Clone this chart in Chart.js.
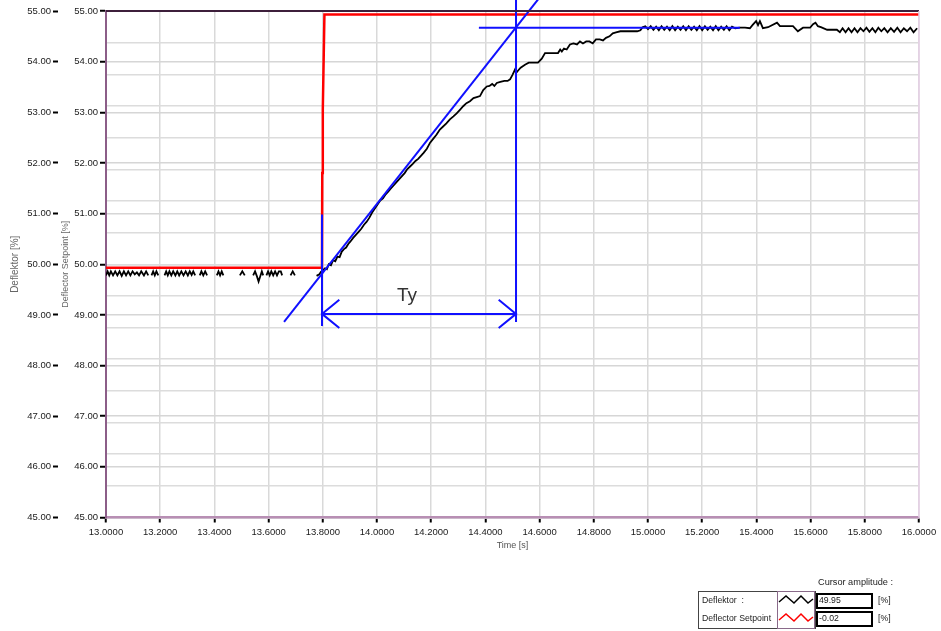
<!DOCTYPE html>
<html>
<head>
<meta charset="utf-8">
<title>Deflektor step response</title>
<script src="https://cdn.jsdelivr.net/npm/chart.js@4.4.1/dist/chart.umd.min.js"></script>
<style>
  html, body { margin: 0; padding: 0; background: #fff; }
  #wrap { position: relative; width: 941px; height: 631px; }
</style>
</head>
<body>
<div id="wrap"><canvas id="stepChart"></canvas></div>
<script>
// Deflektor trace (null = no visible trace in the recording)
const deflektorTime = [
  13.000, 13.006, 13.012, 13.018, 13.026, 13.034, 13.042, 13.050, 13.058, 13.066,
  13.074, 13.082, 13.090, 13.098, 13.106, 13.114, 13.122, 13.130, 13.140, 13.148,
  13.156, 13.162,
  13.168, 13.174, 13.180, 13.186, 13.193, 13.205,
  13.216, 13.222, 13.228, 13.234, 13.241, 13.248, 13.256, 13.263, 13.270, 13.278,
  13.286, 13.294, 13.302, 13.309, 13.316, 13.322, 13.329, 13.338,
  13.346, 13.352, 13.359, 13.366, 13.373, 13.390,
  13.409, 13.415, 13.421, 13.427, 13.433, 13.460,
  13.494, 13.503, 13.512, 13.530,
  13.543, 13.550, 13.557, 13.563, 13.569, 13.575, 13.580, 13.587,
  13.592, 13.598, 13.604, 13.610, 13.617, 13.624, 13.631, 13.638, 13.645, 13.650, 13.660,
  13.681, 13.689, 13.697, 13.740,
  13.777, 13.787, 13.793, 13.800, 13.808, 13.815, 13.822, 13.830, 13.838, 13.846,
  13.854, 13.862, 13.870, 13.878, 13.886, 13.894, 13.902, 13.912, 13.922, 13.932,
  13.942, 13.952, 13.962, 13.972, 13.982, 13.992, 14.002, 14.012, 14.022, 14.032,
  14.042, 14.052, 14.062, 14.072, 14.082, 14.092, 14.102, 14.112, 14.122, 14.132,
  14.142, 14.152, 14.162, 14.172, 14.184, 14.196, 14.208, 14.220, 14.232, 14.244,
  14.256, 14.269, 14.282, 14.294, 14.306, 14.318, 14.330, 14.343, 14.356, 14.368,
  14.380, 14.392, 14.405, 14.415, 14.425, 14.433, 14.442, 14.455, 14.470, 14.482,
  14.491, 14.500, 14.509, 14.514, 14.520, 14.530, 14.546, 14.560, 14.580, 14.594,
  14.608, 14.620, 14.640, 14.660, 14.668, 14.676, 14.682, 14.690, 14.700, 14.712,
  14.725, 14.738, 14.749, 14.760, 14.772, 14.784, 14.796, 14.808, 14.822, 14.834,
  14.845, 14.858, 14.870, 14.882, 14.898, 14.914, 14.930, 14.946, 14.960, 14.972,
  14.980, 14.990,
  15.000, 15.010, 15.020, 15.030, 15.040, 15.050, 15.060, 15.070, 15.080, 15.090,
  15.100, 15.110, 15.120, 15.130, 15.140, 15.150, 15.160, 15.170, 15.180, 15.190,
  15.200, 15.210, 15.220, 15.230, 15.240, 15.250, 15.260, 15.270, 15.280, 15.290,
  15.300, 15.310, 15.322, 15.339,
  15.358, 15.376, 15.387, 15.399, 15.406, 15.413, 15.424, 15.443, 15.476, 15.487,
  15.535, 15.553, 15.572, 15.598, 15.609, 15.618, 15.627, 15.638, 15.661, 15.697,
  15.708,
  15.718, 15.729, 15.740, 15.751, 15.762, 15.773, 15.784, 15.795, 15.806, 15.817,
  15.828, 15.839, 15.850, 15.861, 15.872, 15.884, 15.896, 15.908, 15.920, 15.932,
  15.944, 15.956, 15.968, 15.980, 15.993
];
const deflektorValue = [
  49.78, 49.86, 49.78, 49.86, 49.78, 49.86, 49.78, 49.86, 49.77, 49.86,
  49.78, 49.86, 49.78, 49.86, 49.80, 49.84, 49.78, 49.86, 49.78, 49.86,
  49.78, null,
  49.78, 49.86, 49.78, 49.86, 49.78, null,
  49.78, 49.86, 49.78, 49.86, 49.78, 49.86, 49.78, 49.86, 49.78, 49.86,
  49.78, 49.86, 49.78, 49.86, 49.79, 49.86, 49.78, null,
  49.78, 49.86, 49.78, 49.86, 49.78, null,
  49.78, 49.86, 49.78, 49.86, 49.78, null,
  49.78, 49.86, 49.78, null,
  49.78, 49.86, 49.76, 49.66, 49.76, 49.86, 49.78, null,
  49.78, 49.86, 49.78, 49.86, 49.78, 49.86, 49.78, 49.86, 49.86, 49.78, null,
  49.78, 49.86, 49.78, null,
  49.77, 49.80, 49.85, 49.88, 49.92, 49.90, 50.00, 49.98, 50.08, 50.06,
  50.15, 50.14, 50.25, 50.30, 50.33, 50.40, 50.45, 50.52, 50.58, 50.64,
  50.70, 50.78, 50.84, 50.92, 51.02, 51.10, 51.18, 51.26, 51.30, 51.38,
  51.44, 51.50, 51.56, 51.62, 51.68, 51.74, 51.80, 51.88, 51.93, 51.98,
  52.04, 52.08, 52.14, 52.20, 52.28, 52.40, 52.48, 52.56, 52.66, 52.72,
  52.78, 52.86, 52.92, 52.98, 53.05, 53.12, 53.18, 53.22, 53.28, 53.30,
  53.32, 53.44, 53.51, 53.52, 53.56, 53.52, 53.58, 53.60, 53.62, 53.62,
  53.65, 53.74, 53.84, 53.78, 53.82, 53.88, 53.94, 53.98, 53.98, 53.98,
  54.06, 54.17, 54.17, 54.17, 54.17, 54.24, 54.20, 54.26, 54.24, 54.34,
  54.36, 54.34, 54.40, 54.36, 54.40, 54.40, 54.36, 54.44, 54.44, 54.42,
  54.47, 54.50, 54.56, 54.58, 54.60, 54.60, 54.60, 54.60, 54.60, 54.62,
  54.68, 54.70,
  54.64, 54.70, 54.63, 54.69, 54.62, 54.70, 54.63, 54.69, 54.62, 54.70,
  54.62, 54.69, 54.63, 54.70, 54.62, 54.70, 54.63, 54.69, 54.62, 54.70,
  54.62, 54.70, 54.63, 54.69, 54.62, 54.70, 54.62, 54.69, 54.63, 54.70,
  54.62, 54.69, 54.66, 54.67,
  54.67, 54.66, 54.73, 54.80, 54.72, 54.80, 54.66, 54.68, 54.77, 54.70,
  54.70, 54.60, 54.67, 54.67, 54.74, 54.77, 54.70, 54.68, 54.63, 54.63,
  54.58,
  54.66, 54.58, 54.66, 54.58, 54.66, 54.58, 54.66, 54.60, 54.67, 54.59,
  54.66, 54.58, 54.67, 54.60, 54.66, 54.58, 54.66, 54.59, 54.67, 54.58,
  54.66, 54.60, 54.67, 54.58, 54.66
];

// Deflector setpoint step
const setpointTime = [13.000, 13.797, 13.798, 13.800, 13.804, 13.806, 16.000];
const setpointValue = [49.93, 49.93, 51.80, 53.05, 54.30, 54.93, 54.93];

// Construction lines for the time constant Ty
const tangentTime = [13.657, 14.596];
const tangentValue = [48.86, 55.24];
const startLineTime = [13.797, 13.797];
const startLineValue = [50.98, 48.78];
const endLineTime = [14.513, 14.513];
const endLineValue = [55.24, 48.86];
const levelLineTime = [14.376, 15.339];
const levelLineValue = [54.67, 54.67];
const arrowTime = [13.797, 14.513];
const arrowValue = [49.02, 49.02];
const leftHeadTime = [13.861, 13.797, 13.861];
const leftHeadValue = [49.30, 49.02, 48.74];
const rightHeadTime = [14.449, 14.513, 14.449];
const rightHeadValue = [49.30, 49.02, 48.74];
const tyLabel = { text: 'Ty', t: 14.111, v: 49.38 };

// Axis ticks
const timeTicks = [13.0, 13.2, 13.4, 13.6, 13.8, 14.0, 14.2, 14.4, 14.6, 14.8,
                   15.0, 15.2, 15.4, 15.6, 15.8, 16.0];
const percentTicks = [45, 46, 47, 48, 49, 50, 51, 52, 53, 54, 55];
const fineGridTicks = [0, 1, 2, 3, 4, 5, 6, 7, 8, 9, 10, 11, 12, 13, 14, 15, 16];

// Cursor legend
const legendNames = ['Deflektor  :', 'Deflector Setpoint'];
const legendColors = ['#000000', '#ff0000'];
const cursorValues = ['49.95', '-0.02'];
const cursorUnit = '[%]';

function toPoints(xs, ys) {
    return xs.map((x, i) => ({ x: x, y: ys[i] }));
}

const BLUE = '#1010ff';
const FONT = 'Liberation Sans';

function blueLine(xs, ys, noClip) {
    return {
        data: toPoints(xs, ys),
        borderColor: BLUE,
        borderWidth: 2,
        pointRadius: 0,
        yAxisID: 'y',
        clip: noClip ? false : undefined
    };
}

// frame, Ty label and cursor legend
const decorPlugin = {
    id: 'decor',
    afterDatasetsDraw(chart) {
        const ctx = chart.ctx;
        const a = chart.chartArea;
        ctx.save();
        ctx.strokeStyle = '#3d1f3b';
        ctx.lineWidth = 2;
        ctx.beginPath();
        ctx.moveTo(a.left, a.top);
        ctx.lineTo(a.right, a.top);
        ctx.stroke();
        ctx.strokeStyle = '#e6cfe6';
        ctx.lineWidth = 1.5;
        ctx.beginPath();
        ctx.moveTo(a.right, a.top);
        ctx.lineTo(a.right, a.bottom);
        ctx.stroke();

        const xs = chart.scales.x, ys = chart.scales.y;
        ctx.fillStyle = '#333';
        ctx.font = '19px ' + FONT;
        ctx.textAlign = 'center';
        ctx.textBaseline = 'middle';
        ctx.fillText(tyLabel.text, xs.getPixelForValue(tyLabel.t), ys.getPixelForValue(tyLabel.v));
        ctx.restore();
    },
    afterDraw(chart) {
        const ctx = chart.ctx;
        ctx.save();
        ctx.font = '9.2px ' + FONT;
        ctx.fillStyle = '#222';
        ctx.textBaseline = 'middle';
        ctx.textAlign = 'left';
        ctx.fillText('Cursor amplitude :', 818, 582);

        ctx.font = '8.7px ' + FONT;
        ctx.strokeStyle = '#444';
        ctx.lineWidth = 1;
        ctx.strokeRect(698.5, 591.5, 117, 37);
        ctx.strokeStyle = '#8a6a8a';
        ctx.strokeRect(777.5, 591.5, 37, 37);

        legendNames.forEach((name, i) => {
            const cy = 601 + i * 18;
            ctx.fillStyle = '#222';
            ctx.fillText(name, 702, cy);
            // zigzag sample
            ctx.strokeStyle = legendColors[i];
            ctx.lineWidth = 1.5;
            ctx.beginPath();
            ctx.moveTo(779, cy + 1);
            ctx.lineTo(786, cy - 5);
            ctx.lineTo(794, cy + 2);
            ctx.lineTo(801, cy - 5);
            ctx.lineTo(808, cy + 2);
            ctx.lineTo(813, cy - 2);
            ctx.stroke();
            // value box
            ctx.strokeStyle = '#000';
            ctx.lineWidth = 2;
            ctx.strokeRect(817, cy - 7, 55, 14);
            ctx.fillStyle = '#222';
            ctx.fillText(cursorValues[i], 819, cy);
            ctx.fillText(cursorUnit, 878, cy);
        });
        ctx.restore();
    }
};

Chart.defaults.font.family = FONT;
Chart.defaults.font.size = 9.5;

new Chart(document.getElementById('stepChart'), {
    type: 'line',
    data: {
        datasets: [
            blueLine(tangentTime, tangentValue, true),
            blueLine(startLineTime, startLineValue),
            blueLine(endLineTime, endLineValue, true),
            blueLine(levelLineTime, levelLineValue),
            blueLine(arrowTime, arrowValue),
            blueLine(leftHeadTime, leftHeadValue),
            blueLine(rightHeadTime, rightHeadValue),
            {
                label: 'Deflektor',
                data: toPoints(deflektorTime, deflektorValue),
                borderColor: '#000000',
                borderWidth: 1.8,
                pointRadius: 0,
                spanGaps: false,
                yAxisID: 'y1'
            },
            {
                label: 'Deflector Setpoint',
                data: toPoints(setpointTime, setpointValue),
                borderColor: '#ff0000',
                borderWidth: 2.5,
                pointRadius: 0,
                yAxisID: 'y'
            }
        ]
    },
    options: {
        responsive: true,
        maintainAspectRatio: false,
        animation: false,
        devicePixelRatio: 1,
        events: [],
        layout: { padding: { left: 7, top: 11, right: 22, bottom: 80.5 } },
        plugins: {
            legend: { display: false },
            tooltip: { enabled: false }
        },
        elements: { line: { tension: 0 } },
        scales: {
            x: {
                type: 'linear',
                min: 13,
                max: 16,
                afterBuildTicks: axis => { axis.ticks = timeTicks.map(v => ({ value: v })); },
                afterFit: axis => { axis.height = 33; },
                ticks: {
                    callback: v => Number(v).toFixed(4),
                    color: '#1a1a1a',
                    padding: 4,
                    maxRotation: 0,
                    autoSkip: false
                },
                grid: { color: '#d9d9d9', lineWidth: 1.5, tickLength: 5, tickColor: '#000', tickWidth: 2 },
                border: { display: true, color: '#b88fb4', width: 2.5 },
                title: { display: true, text: 'Time [s]', color: '#555', font: { size: 9 }, padding: { top: 2, bottom: 0 } }
            },
            y: {
                position: 'left',
                weight: 0,
                min: 45,
                max: 55,
                afterBuildTicks: axis => { axis.ticks = percentTicks.map(v => ({ value: v })); },
                afterFit: axis => { axis.width = 48; },
                ticks: { callback: v => Number(v).toFixed(2), color: '#1a1a1a', padding: 2 },
                grid: { color: '#d6d6d6', lineWidth: 1.5, tickLength: 6, tickColor: '#000', tickWidth: 2 },
                border: { display: true, color: '#8c5e88', width: 2 },
                title: { display: true, text: 'Deflector Setpoint [%]', color: '#666', font: { size: 9 }, padding: { top: 2, bottom: 0 } }
            },
            y1: {
                position: 'left',
                weight: 1,
                min: 45,
                max: 55,
                afterBuildTicks: axis => { axis.ticks = percentTicks.map(v => ({ value: v })); },
                afterFit: axis => { axis.width = 51; },
                ticks: { callback: v => Number(v).toFixed(2), color: '#1a1a1a', padding: 2 },
                grid: { drawOnChartArea: false, tickLength: 5, tickColor: '#000', tickWidth: 2 },
                border: { display: false },
                title: { display: true, text: 'Deflektor [%]', color: '#666', font: { size: 10 }, padding: { top: 2, bottom: 0 } }
            },
            yGrid: {
                position: 'right',
                min: 0,
                max: 16,
                afterBuildTicks: axis => { axis.ticks = fineGridTicks.map(v => ({ value: v })); },
                afterFit: axis => { axis.width = 0; },
                ticks: { display: false },
                grid: { color: '#dcdcdc', lineWidth: 1.5, drawTicks: false },
                border: { display: false }
            }
        }
    },
    plugins: [decorPlugin]
});
</script>
</body>
</html>
